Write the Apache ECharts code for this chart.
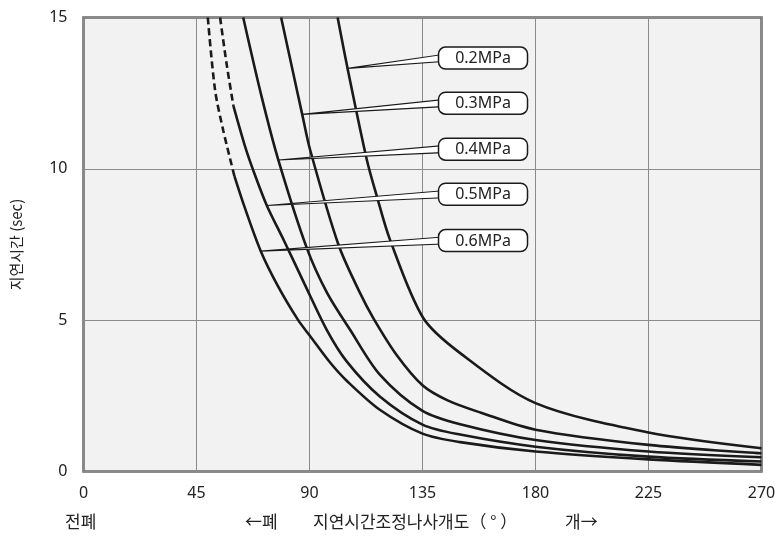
<!DOCTYPE html>
<html>
<head>
<meta charset="utf-8">
<script src="https://cdn.jsdelivr.net/npm/echarts@6/dist/echarts.min.js"></script>
<style>html,body{margin:0;padding:0;background:#fff}#c{width:779px;height:536px}</style>
</head>
<body>
<div id="c"></div>
<script>
// ---- data ----
const xTicks = [0, 45, 90, 135, 180, 225, 270];
const yTicks = [0, 5, 10, 15];
const pressures = ['0.2MPa', '0.3MPa', '0.4MPa', '0.5MPa', '0.6MPa'];

// 0.6 MPa
const p06Dashed = [[49.5, 15], [52.4, 12.6], [55.7, 11.25], [60.1, 9.76]];
const p06Solid = [[60.1, 9.76], [64.3, 8.7], [70.6, 7.28], [77.6, 6.1], [85.5, 5.0], [90, 4.5], [98.2, 3.6],
  [104.8, 3.0], [118, 2.04], [135, 1.25], [150, 0.97], [180, 0.66], [225, 0.40], [270, 0.22]];
// 0.5 MPa
const p05Dashed = [[54.4, 15], [57, 13.46], [59.7, 12.08]];
const p05Solid = [[59.7, 12.08], [64.3, 10.75], [67.6, 9.95], [73, 8.79], [80, 7.6], [88, 6.2], [96.8, 4.69],
  [104.8, 3.64], [118, 2.48], [135, 1.55], [150, 1.22], [180, 0.82], [225, 0.49], [270, 0.33]];
// 0.4 MPa
const p04 = [[63.6, 15], [71, 12.36], [77.6, 10.29], [88.9, 7.39], [97, 5.9], [106.1, 4.69], [118, 3.2],
  [135, 2.0], [150, 1.56], [180, 1.04], [225, 0.66], [270, 0.47]];
// 0.3 MPa
const p03 = [[78.7, 15], [84.2, 12.9], [87.1, 11.8], [90.2, 10.64], [101.5, 7.5], [110.1, 5.9], [115.4, 5.07],
  [124.7, 3.85], [135, 2.85], [145, 2.35], [158, 1.95], [180, 1.38], [225, 0.88], [270, 0.6]];
// 0.2 MPa
const p02 = [[101.2, 15], [105.2, 13.3], [112.8, 10.31], [116.8, 9.1], [122, 7.67], [135.3, 5.07],
  [150, 3.91], [180, 2.26], [225, 1.29], [270, 0.77]];

// callout anchor points on curves
const calloutTips = [[105.2, 13.32], [87.1, 11.8], [77.6, 10.29], [73, 8.79], [70.6, 7.28]];
// ---- end data ----

const calloutBoxX = 159.1;              // box centre (data x)
const calloutBoxY = [13.66, 12.17, 10.65, 9.16, 7.63];

const lineColor = '#1a1a1a';
function line(data, dashed) {
  return {
    type: 'line', data: data, showSymbol: false, smooth: 0.3,
    lineStyle: { color: lineColor, width: 2.6, type: dashed ? [7, 4] : 'solid' },
    z: 3, silent: true
  };
}

const calloutData = pressures.map((p, i) => [calloutTips[i][0], calloutTips[i][1], calloutBoxX, calloutBoxY[i], i]);

const chart = echarts.init(document.getElementById('c'), null, { renderer: 'canvas' });
chart.setOption({
  animation: false,
  backgroundColor: '#ffffff',
  grid: {
    left: 83.5, right: 17.5, top: 17.5, bottom: 64.5,
    show: true, backgroundColor: '#f2f2f2', borderColor: '#666', borderWidth: 2.5
  },
  xAxis: {
    type: 'value', min: 0, max: 270, interval: 45,
    axisLine: { show: false }, axisTick: { show: false },
    splitLine: { show: true, lineStyle: { color: '#8a8a8a', width: 1 } },
    axisLabel: { color: '#222', fontSize: 16, margin: 14, fontFamily: 'Noto Sans', formatter: v => xTicks.includes(v) ? String(v) : '' }
  },
  yAxis: {
    type: 'value', min: 0, max: 15, interval: 5,
    name: '지연시간 (sec)', nameLocation: 'middle', nameGap: 60, nameRotate: 90,
    nameTextStyle: { color: '#222', fontSize: 15, fontFamily: 'Noto Sans CJK KR' },
    axisLine: { show: false }, axisTick: { show: false },
    splitLine: { show: true, lineStyle: { color: '#8a8a8a', width: 1 } },
    axisLabel: { color: '#222', fontSize: 16, margin: 16, fontFamily: 'Noto Sans', formatter: v => yTicks.includes(v) ? String(v) : '' }
  },
  series: [
    line(p06Dashed, true), line(p06Solid, false),
    line(p05Dashed, true), line(p05Solid, false),
    line(p04, false), line(p03, false), line(p02, false),
    {
      type: 'custom', data: calloutData, z: 10, silent: true,
      renderItem: function (params, api) {
        const tip = api.coord([api.value(0), api.value(1)]);
        const c = api.coord([api.value(2), api.value(3)]);
        const idx = api.value(4);
        const w = 89, h = 22;
        const left = c[0] - w / 2;
        return {
          type: 'group',
          children: [
            { type: 'polygon', shape: { points: [tip, [left + 4, c[1] - 3.5], [left + 4, c[1] + 3.5]] },
              style: { fill: '#ffffff', stroke: '#1a1a1a', lineWidth: 1.1 } },
            { type: 'rect', shape: { x: left, y: c[1] - h / 2, width: w, height: h, r: 7 },
              style: { fill: '#ffffff', stroke: '#1a1a1a', lineWidth: 1.5 } },
            { type: 'text', style: { x: c[0], y: c[1] + 0.5, text: pressures[idx], align: 'center', verticalAlign: 'middle',
              fill: '#222', fontSize: 16, fontFamily: 'Noto Sans' } }
          ]
        };
      }
    }
  ],
  graphic: [
    { type: 'text', left: 65, top: 513, style: { text: '전폐', fill: '#222', fontSize: 17, fontFamily: 'Noto Sans CJK KR' } },
    { type: 'text', left: 245, top: 513, style: { text: '←폐', fill: '#222', fontSize: 17, fontFamily: 'Noto Sans CJK KR' } },
    { type: 'text', left: 313, top: 513, style: { text: '지연시간조정나사개도（ ° ）', fill: '#222', fontSize: 17, fontFamily: 'Noto Sans CJK KR' } },
    { type: 'text', left: 565, top: 513, style: { text: '개→', fill: '#222', fontSize: 17, fontFamily: 'Noto Sans CJK KR' } }
  ]
});
</script>
</body>
</html>
